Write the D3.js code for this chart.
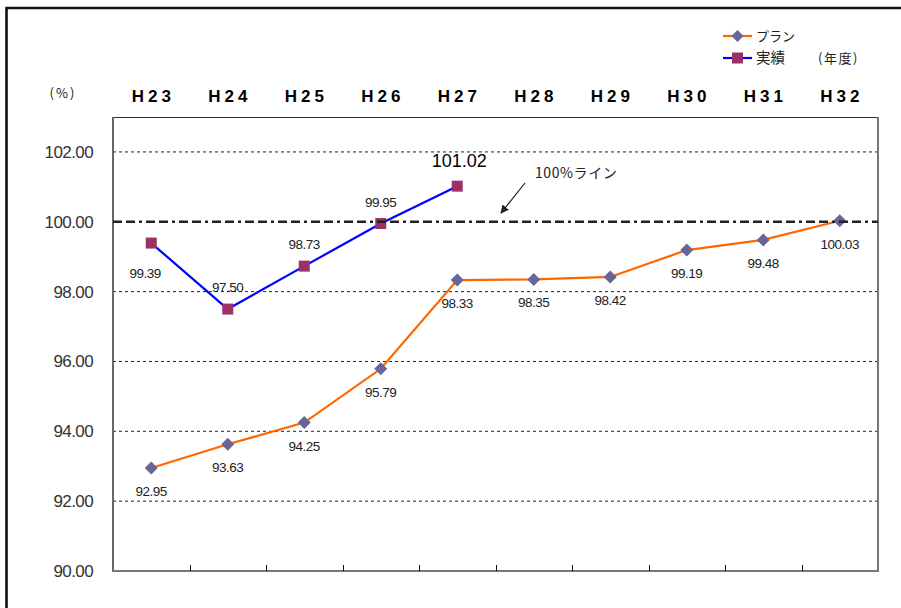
<!DOCTYPE html>
<html>
<head>
<meta charset="utf-8">
<script src="https://cdn.jsdelivr.net/npm/d3@7/dist/d3.min.js"></script>
<style>
  html, body { margin: 0; padding: 0; background: #fff; }
  svg { display: block; }
  text { font-family: "Liberation Sans", Arial, sans-serif; }
  .jp { font-family: "Noto Sans CJK JP", "Noto Sans", sans-serif; }
</style>
</head>
<body>
<svg id="chart" width="901" height="608"></svg>
<script>
// Fiscal years (平成)
const years = ["H23", "H24", "H25", "H26", "H27", "H28", "H29", "H30", "H31", "H32"];
// Plan values (%)
const planValues = [92.95, 93.63, 94.25, 95.79, 98.33, 98.35, 98.42, 99.19, 99.48, 100.03];
// Actual results (%), available through H27
const actualValues = [99.39, 97.50, 98.73, 99.95, 101.02];
// Y axis ticks
const yTicks = [90, 92, 94, 96, 98, 100, 102];
const referenceValue = 100;

const svg = d3.select("#chart");
const plot = { left: 113, right: 878, top: 117, bottom: 571 };

const x = d3.scaleBand().domain(years).range([plot.left, plot.right]).padding(0);
const cx = d => x(d) + x.bandwidth() / 2;
const y = d3.scaleLinear().domain([90, 103]).range([plot.bottom, plot.top]);

// outer frame
svg.append("path")
  .attr("d", `M6.5,612 L6.5,8 L905,8`)
  .attr("fill", "none").attr("stroke", "#111").attr("stroke-width", 2.6);

// dotted gridlines (except the 100% reference)
svg.append("g").selectAll("line")
  .data(yTicks.filter(t => t !== 90 && t !== referenceValue))
  .join("line")
  .attr("x1", plot.left).attr("x2", plot.right)
  .attr("y1", d => y(d)).attr("y2", d => y(d))
  .attr("stroke", "#222").attr("stroke-width", 1)
  .attr("stroke-dasharray", "3,3");

// plot frame
svg.append("line").attr("x1", plot.left).attr("x2", plot.right)
  .attr("y1", plot.top + 0.5).attr("y2", plot.top + 0.5)
  .attr("stroke", "#333").attr("stroke-width", 1);
svg.append("line").attr("x1", plot.left).attr("x2", plot.left)
  .attr("y1", plot.top).attr("y2", plot.bottom)
  .attr("stroke", "#666").attr("stroke-width", 2);
svg.append("line").attr("x1", plot.right).attr("x2", plot.right)
  .attr("y1", plot.top).attr("y2", plot.bottom)
  .attr("stroke", "#777").attr("stroke-width", 2);
svg.append("line").attr("x1", plot.left - 1).attr("x2", plot.right + 1)
  .attr("y1", plot.bottom).attr("y2", plot.bottom)
  .attr("stroke", "#777").attr("stroke-width", 2);

// category separators on the bottom axis
svg.append("g").selectAll("line")
  .data(years.slice(1))
  .join("line")
  .attr("x1", d => Math.round(x(d)) + 0.5).attr("x2", d => Math.round(x(d)) + 0.5)
  .attr("y1", plot.bottom).attr("y2", plot.bottom - 6)
  .attr("stroke", "#111").attr("stroke-width", 1);

// y axis labels
const yAxis = svg.append("g")
  .attr("transform", `translate(${plot.left},0)`)
  .call(d3.axisLeft(y).tickValues(yTicks).tickFormat(d3.format(".2f")).tickSize(0).tickPadding(20));
yAxis.select(".domain").remove();
yAxis.selectAll("text")
  .attr("font-family", "Liberation Sans, Arial, sans-serif")
  .attr("font-size", 17).attr("fill", "#333")
  .attr("letter-spacing", "-0.6");

// year labels along the top
svg.append("g").selectAll("text")
  .data(years)
  .join("text")
  .attr("x", d => cx(d) + 2)
  .attr("y", 102)
  .attr("text-anchor", "middle")
  .attr("font-size", 17).attr("font-weight", "bold")
  .attr("letter-spacing", "4")
  .attr("fill", "#000")
  .text(d => d);

svg.append("text").attr("class", "jp")
  .attr("x", 63).attr("y", 98).attr("text-anchor", "middle")
  .attr("font-size", 13).attr("letter-spacing", "2").attr("fill", "#222")
  .text("(%)");

// plan series
const planData = years.map((yr, i) => ({ yr, v: planValues[i] }));
const actualData = actualValues.map((v, i) => ({ yr: years[i], v }));

const line = d3.line().x(d => cx(d.yr)).y(d => y(d.v));

svg.append("path").datum(planData)
  .attr("d", line).attr("fill", "none")
  .attr("stroke", "#ff6600").attr("stroke-width", 2.2);

svg.append("path").datum(actualData)
  .attr("d", line).attr("fill", "none")
  .attr("stroke", "#0000ff").attr("stroke-width", 2.2);

const diamond = s => `M0,${-s} L${s},0 L0,${s} L${-s},0 Z`;

svg.append("g").selectAll("path")
  .data(planData)
  .join("path")
  .attr("transform", d => `translate(${cx(d.yr)},${y(d.v)})`)
  .attr("d", diamond(6.5))
  .attr("fill", "#666699");

svg.append("g").selectAll("rect")
  .data(actualData)
  .join("rect")
  .attr("x", d => cx(d.yr) - 5.5).attr("y", d => y(d.v) - 5.5)
  .attr("width", 11).attr("height", 11)
  .attr("fill", "#993366");

// 100% reference line (dash-dot)
svg.append("line")
  .attr("x1", plot.left).attr("x2", plot.right)
  .attr("y1", y(referenceValue)).attr("y2", y(referenceValue))
  .attr("stroke", "#222").attr("stroke-width", 2.6)
  .attr("stroke-dasharray", "9,4,9,4,3,4");

// value labels
const fmt = d3.format(".2f");
svg.append("g").selectAll("text")
  .data(planData)
  .join("text")
  .attr("x", d => cx(d.yr))
  .attr("y", d => y(d.v) + 28)
  .attr("text-anchor", "middle")
  .attr("font-size", 13.5).attr("letter-spacing", "-0.5").attr("fill", "#222")
  .text(d => fmt(d.v));

const last = actualData.length - 1;
svg.append("g").selectAll("text")
  .data(actualData)
  .join("text")
  .attr("x", (d, i) => cx(d.yr) + (i === 0 ? -6 : (i === last ? 2 : 0)))
  .attr("y", (d, i) => i === 0 ? y(d.v) + 35 : (i === last ? y(d.v) - 19 : y(d.v) - 17))
  .attr("text-anchor", "middle")
  .attr("font-size", (d, i) => i === last ? 18 : 13.5)
  .attr("letter-spacing", (d, i) => i === last ? "0" : "-0.5")
  .attr("fill", (d, i) => i === last ? "#000" : "#222")
  .text(d => fmt(d.v));

// annotation for the 100% line
svg.append("defs").append("marker")
  .attr("id", "arrow").attr("viewBox", "0 0 10 10")
  .attr("refX", 9).attr("refY", 5)
  .attr("markerWidth", 7).attr("markerHeight", 7)
  .attr("orient", "auto")
  .append("path").attr("d", "M0,0 L10,5 L0,10 Z").attr("fill", "#222");

svg.append("line")
  .attr("x1", 525).attr("y1", 183)
  .attr("x2", 501).attr("y2", 213)
  .attr("stroke", "#222").attr("stroke-width", 1.2)
  .attr("marker-end", "url(#arrow)");

svg.append("text").attr("class", "jp")
  .attr("x", 535).attr("y", 178)
  .attr("font-size", 14).attr("letter-spacing", "0.6").attr("fill", "#222")
  .text("100%ライン");

// legend
const legend = svg.append("g");
legend.append("line").attr("x1", 723).attr("x2", 752).attr("y1", 36).attr("y2", 36)
  .attr("stroke", "#ff6600").attr("stroke-width", 2.2);
legend.append("path").attr("transform", "translate(737.5,36)").attr("d", diamond(6)).attr("fill", "#666699");
legend.append("text").attr("class", "jp").attr("x", 756).attr("y", 41)
  .attr("font-size", 13).attr("fill", "#222").text("プラン");

legend.append("line").attr("x1", 723).attr("x2", 752).attr("y1", 58).attr("y2", 58)
  .attr("stroke", "#0000ff").attr("stroke-width", 2.2);
legend.append("rect").attr("x", 732).attr("y", 52.5).attr("width", 11).attr("height", 11).attr("fill", "#993366");
legend.append("text").attr("class", "jp").attr("x", 756).attr("y", 63)
  .attr("font-size", 14.5).attr("fill", "#222").text("実績");

legend.append("text").attr("class", "jp").attr("x", 818).attr("y", 63)
  .attr("font-size", 13).attr("letter-spacing", "1.5").attr("fill", "#222").text("(年度)");
</script>
</body>
</html>
